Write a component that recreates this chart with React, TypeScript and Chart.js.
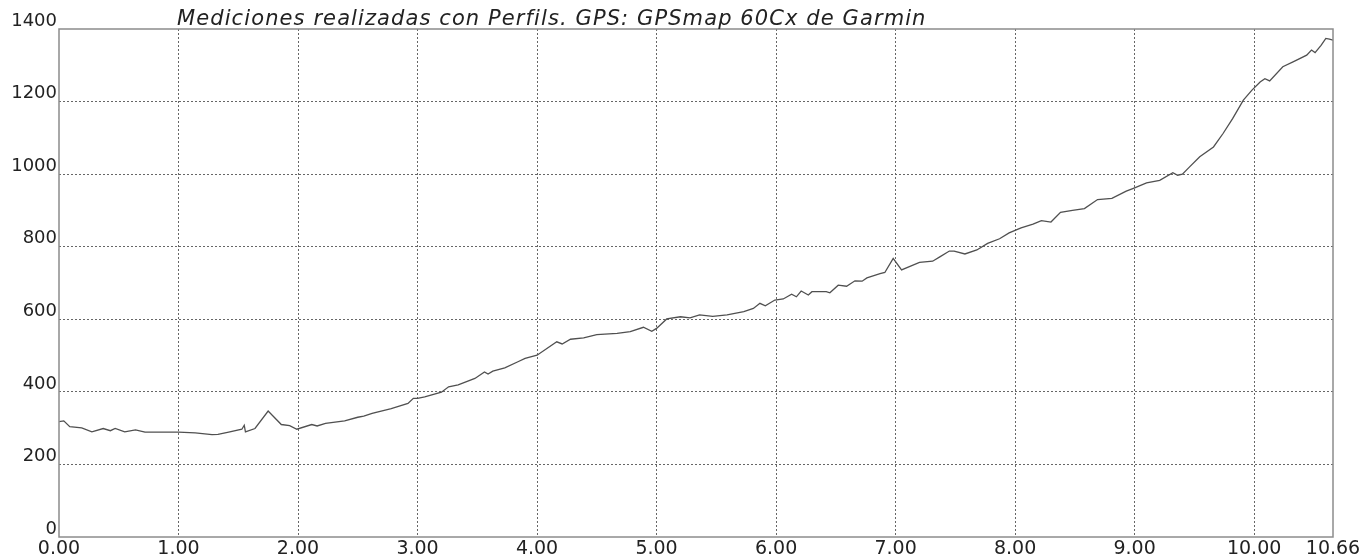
import React, { useEffect, useRef } from "react";
import { Chart, registerables } from "chart.js";

Chart.register(...registerables);

const titleText = "Mediciones realizadas con Perfils. GPS: GPSmap 60Cx de Garmin";

const distanceKm = [
  0.0, 0.04, 0.09, 0.19, 0.275, 0.37, 0.43, 0.47, 0.55, 0.64, 0.72, 0.89, 1.0, 1.14, 1.28, 1.33, 1.42,
  1.53, 1.55, 1.56, 1.64, 1.75, 1.86, 1.93, 1.99, 2.115, 2.16, 2.23, 2.39, 2.5, 2.55, 2.62, 2.78, 2.92,
  2.965, 3.0, 3.06, 3.2, 3.26, 3.34, 3.48, 3.56, 3.59, 3.63, 3.73, 3.84, 3.9, 4.0, 4.165, 4.21, 4.28,
  4.39, 4.5, 4.67, 4.78, 4.89, 4.96, 5.0, 5.085, 5.2, 5.28, 5.36, 5.47, 5.59, 5.73, 5.81, 5.865, 5.91,
  5.99, 6.06, 6.13, 6.17, 6.21, 6.27, 6.3, 6.42, 6.45, 6.52, 6.59, 6.66, 6.72, 6.76, 6.87, 6.91, 6.98,
  7.05, 7.2, 7.31, 7.37, 7.45, 7.49, 7.58, 7.68, 7.77, 7.87, 7.95, 8.05, 8.15, 8.22, 8.3, 8.38, 8.48,
  8.58, 8.69, 8.81, 8.93, 8.99, 9.1, 9.21, 9.32, 9.36, 9.4, 9.46, 9.545, 9.66, 9.74, 9.82, 9.91, 9.98,
  10.05, 10.09, 10.13, 10.24, 10.33, 10.44, 10.48, 10.51, 10.56, 10.6, 10.63, 10.66,
];

const elevationM = [
  318, 320, 304, 301, 290, 299, 293, 299, 290, 295, 289, 289, 289, 287, 282, 283, 289,
  297, 308, 290, 299, 347, 310, 307, 297, 310, 306, 313, 320, 330, 333, 341, 354, 368,
  382, 382, 386, 399, 414, 419, 437, 455, 449, 457, 466, 483, 492, 501, 538, 532, 545,
  549, 558, 561, 566, 578, 567, 575, 601, 607, 604, 612, 608, 612, 621, 630, 644, 637,
  653, 656, 669, 662, 678, 667, 676, 676, 673, 694, 691, 706, 705, 714, 726, 729, 768,
  736, 757, 760, 772, 788, 788, 780, 791, 809, 822, 838, 852, 862, 872, 868, 895, 900,
  905, 930, 933, 953, 961, 976, 983, 1004, 997, 1000, 1020, 1048, 1075, 1112, 1153, 1204, 1231,
  1254, 1263, 1257, 1296, 1310, 1328, 1342, 1335, 1355, 1374, 1372, 1369,
];

const xTickValues = [0, 1, 2, 3, 4, 5, 6, 7, 8, 9, 10, 10.66];
const yTickValues = [0, 200, 400, 600, 800, 1000, 1200, 1400];

const framePlugin = {
  id: "frameAndTitle",
  afterDraw(chart: any) {
    const { ctx, chartArea } = chart;
    ctx.save();
    ctx.strokeStyle = "#8c8c8c";
    ctx.lineWidth = 1.5;
    ctx.strokeRect(chartArea.left, chartArea.top, chartArea.right - chartArea.left, chartArea.bottom - chartArea.top);
    ctx.fillStyle = "#222";
    ctx.font = "italic 21px 'DejaVu Sans'";
    (ctx as any).letterSpacing = "1.1px";
    ctx.textBaseline = "alphabetic";
    ctx.textAlign = "left";
    ctx.fillText(titleText, 177, 25);
    ctx.restore();
  },
};

export default function App() {
  const canvasRef = useRef<HTMLCanvasElement | null>(null);

  useEffect(() => {
    if (!canvasRef.current) return;
    const points = distanceKm.map((d, i) => ({ x: d, y: elevationM[i] }));
    const chart = new Chart(canvasRef.current, {
      type: "line",
      data: {
        datasets: [
          {
            data: points,
            borderColor: "#505050",
            borderWidth: 1.3,
            pointRadius: 0,
            tension: 0,
            fill: false,
          },
        ],
      },
      options: {
        animation: false,
        responsive: true,
        maintainAspectRatio: false,
        layout: { padding: { top: 29, right: 31, left: 0, bottom: 0 } },
        plugins: { legend: { display: false }, tooltip: { enabled: false }, title: { display: false } },
        scales: {
          x: {
            type: "linear",
            min: 0,
            max: 10.66,
            afterBuildTicks: (scale: any) => {
              scale.ticks = xTickValues.map((v) => ({ value: v }));
            },
            afterFit: (scale: any) => {
              scale.height = 21;
            },
            ticks: {
              autoSkip: false,
              maxRotation: 0,
              padding: 1,
              color: "#222",
              font: { family: "'DejaVu Sans'", size: 19 },
              callback: (v: any) => Number(v).toFixed(2),
            },
            grid: {
              drawTicks: false,
              lineWidth: 1,
              color: (c: any) => (c.tick && (c.tick.value === 0 || c.tick.value === 10.66) ? "rgba(0,0,0,0)" : "#666"),
            },
            border: { display: false, dash: [2, 2] },
          },
          y: {
            type: "linear",
            min: 0,
            max: 1400,
            afterBuildTicks: (scale: any) => {
              scale.ticks = yTickValues.map((v) => ({ value: v }));
            },
            afterFit: (scale: any) => {
              scale.width = 59;
            },
            ticks: {
              autoSkip: false,
              padding: 2,
              labelOffset: -8,
              color: "#222",
              font: { family: "'DejaVu Sans'", size: 18 },
              callback: (v: any) => String(v),
            },
            grid: {
              drawTicks: false,
              lineWidth: 1,
              color: (c: any) => (c.tick && (c.tick.value === 0 || c.tick.value === 1400) ? "rgba(0,0,0,0)" : "#666"),
            },
            border: { display: false, dash: [2, 2] },
          },
        },
      },
      plugins: [framePlugin],
    });
    return () => chart.destroy();
  }, []);

  return (
    <div style={{ position: "absolute", left: 0, top: 0, width: 1364, height: 558, background: "#fff" }}>
      <canvas ref={canvasRef} />
    </div>
  );
}
